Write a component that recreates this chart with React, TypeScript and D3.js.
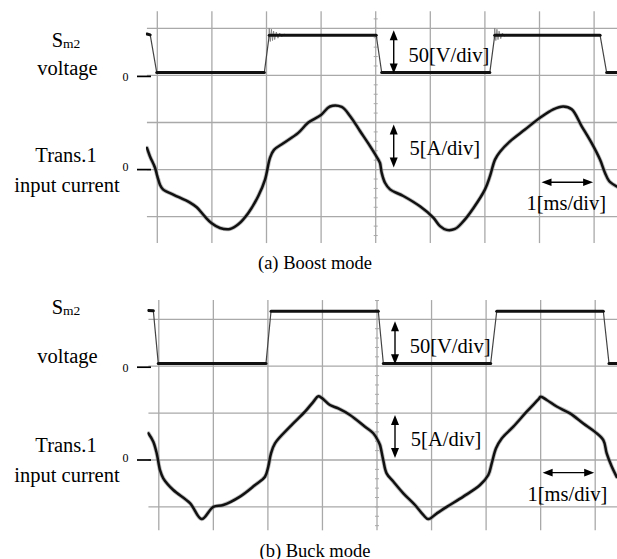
import React from 'react';
import * as d3 from 'd3';

const W = 617;
const H = 559;
const FONT = "'Liberation Serif', 'Times New Roman', Times, serif";

// Time grid: 1 ms per division; level grid: 4 divisions
const timeDivs = d3.range(0, 9);
const levelDivs = d3.range(0, 5);

// (a) Boost mode — switch voltage [ms, V]
const boostVoltage: [number, number][] = [
  [-0.19, 44], [-0.13, 43], [-0.01, 3], [1.96, 3], [2.05, 42.5], [4.01, 42.5],
  [4.11, 3], [6.09, 3], [6.18, 42.5], [8.11, 42.5], [8.23, 3], [8.45, 3],
];

// Switching ringing right after each rising edge [ms, V]
const boostRingingA: [number, number][] = [
  [2.04, 40], [2.05, 50], [2.07, 36], [2.09, 49], [2.11, 37], [2.13, 47], [2.15, 38],
  [2.18, 46], [2.21, 39.5], [2.24, 45], [2.28, 41], [2.32, 44], [2.36, 42.5],
];
const boostRingingB: [number, number][] = [
  [6.17, 40], [6.18, 50], [6.2, 37], [6.22, 49], [6.24, 38], [6.26, 47], [6.29, 39],
  [6.32, 45], [6.36, 41.5], [6.4, 43.5], [6.44, 42.5],
];

// (a) Boost mode — transformer input current [ms, A]
const boostCurrent: [number, number][] = [
  [-0.19, 2.3], [-0.134, 1.4], [-0.042, 0.2], [0, -0.7], [0.049, -1.6], [0.104, -2.1],
  [0.293, -2.65], [0.599, -3.5], [0.722, -4.0], [0.874, -5.0], [0.996, -5.7], [1.148, -6.2],
  [1.332, -6.3], [1.484, -5.8], [1.667, -4.6], [1.85, -2.8], [1.973, -1.06], [2.064, 1.24],
  [2.137, 2.1], [2.308, 2.8], [2.582, 3.9], [2.766, 5.0], [2.998, 5.8], [3.163, 6.7],
  [3.377, 6.65], [3.529, 5.7], [3.712, 4.1], [3.896, 2.5], [4.048, 1.06], [4.079, 0.7],
  [4.11, -0.35], [4.17, -1.4], [4.262, -2.1], [4.505, -2.8], [4.811, -3.9], [5.055, -5.1],
  [5.178, -6.0], [5.3, -6.4], [5.452, -6.3], [5.604, -5.5], [5.788, -4.1], [6.002, -2.1],
  [6.093, -0.7], [6.185, 1.06], [6.277, 1.9], [6.46, 3.0], [6.734, 4.25], [7.009, 5.5],
  [7.253, 6.4], [7.436, 6.7], [7.59, 6.4], [7.773, 4.6], [7.956, 2.8], [8.108, 1.06],
  [8.2, -0.35], [8.278, -1.24], [8.42, -1.8],
];

// (b) Buck mode — switch voltage [ms, V]
const buckVoltage: [number, number][] = [
  [-0.19, 59.5], [-0.1, 59], [-0.01, 3], [1.965, 3], [2.057, 58.6], [4.024, 58.6],
  [4.116, 3], [6.084, 3], [6.195, 58.6], [8.149, 58.6], [8.253, 3], [8.45, 3],
];

// (b) Buck mode — transformer input current [ms, A]
const buckCurrent: [number, number][] = [
  [-0.192, 2.85], [-0.101, 1.95], [-0.038, 0.7], [0.022, -1.07], [0.082, -1.95], [0.266, -3.2],
  [0.572, -4.6], [0.786, -6.3], [0.999, -5.0], [1.182, -4.8], [1.489, -3.9], [1.764, -2.67],
  [1.947, -1.78], [2.007, -0.7], [2.057, 0.7], [2.13, 1.78], [2.405, 3.55], [2.68, 5.15],
  [2.832, 6.2], [2.924, 6.8], [2.992, 6.6], [3.138, 5.86], [3.29, 5.5], [3.505, 4.8],
  [3.78, 3.55], [3.932, 2.85], [4.024, 2.0], [4.055, 1.6], [4.114, 0], [4.176, -1.42],
  [4.299, -2.3], [4.482, -3.55], [4.697, -4.8], [4.849, -5.86], [4.94, -6.3], [5.094, -5.7],
  [5.278, -5.0], [5.582, -3.9], [5.888, -2.67], [6.04, -1.6], [6.103, -0.36], [6.182, 1.25],
  [6.286, 2.3], [6.499, 3.55], [6.744, 5.15], [6.957, 6.46], [7.001, 6.75], [7.111, 6.4],
  [7.294, 5.7], [7.538, 4.97], [7.782, 3.9], [7.996, 3.0], [8.149, 2.13], [8.211, 0.7],
  [8.303, -0.7], [8.394, -1.8],
];

const voltScale = '50[V/div]';
const currScale = '5[A/div]';
const timeScale = '1[ms/div]';

type PanelSpec = {
  id: string;
  ox: number;
  oy: number;
  dx: number;
  dy: number;
  rowMin: number;
  rowMax: number;
  caption: string;
  captionY: number;
  voltage: [number, number][];
  ringing: [number, number][][];
  current: [number, number][];
  sY: number;
  voltY: number;
  transY: number;
  inputY: number;
};

const panels: PanelSpec[] = [
  {
    id: 'a', ox: 157.3, oy: 28.3, dx: 54.6, dy: 47.1, rowMin: -0.36, rowMax: 4.56,
    caption: '(a) Boost mode', captionY: 268.5,
    voltage: boostVoltage, ringing: [boostRingingA, boostRingingB], current: boostCurrent,
    sY: 47, voltY: 75, transY: 161.7, inputY: 191.7,
  },
  {
    id: 'b', ox: 158.8, oy: 319.3, dx: 54.55, dy: 46.9, rowMin: -0.41, rowMax: 4.5,
    caption: '(b) Buck mode', captionY: 556.5,
    voltage: buckVoltage, ringing: [], current: buckCurrent,
    sY: 314, voltY: 363, transY: 452, inputY: 482,
  },
];

// Split a switching waveform into its flat (on/off) stretches
function plateaus(pts: [number, number][]): [number, number][][] {
  const out: [number, number][][] = [];
  let cur: [number, number][] = [];
  for (let k = 0; k < pts.length - 1; k++) {
    const a = pts[k];
    const b = pts[k + 1];
    if (Math.abs(b[1] - a[1]) < 5) {
      if (!cur.length) cur.push(a);
      cur.push(b);
    } else if (cur.length) {
      out.push(cur);
      cur = [];
    }
  }
  if (cur.length) out.push(cur);
  return out;
}

function VArrow({ x, y1, y2 }: { x: number; y1: number; y2: number }) {
  const hl = 10;
  const hw = 4;
  return (
    <g fill="#000" stroke="none">
      <line x1={x} x2={x} y1={y1 + hl - 1} y2={y2 - hl + 1} stroke="#000" strokeWidth={1.4} />
      <polygon points={`${x},${y1} ${x - hw},${y1 + hl} ${x + hw},${y1 + hl}`} />
      <polygon points={`${x},${y2} ${x - hw},${y2 - hl} ${x + hw},${y2 - hl}`} />
    </g>
  );
}

function HArrow({ x1, x2, y }: { x1: number; x2: number; y: number }) {
  const hl = 10;
  const hw = 3.8;
  return (
    <g fill="#000" stroke="none">
      <line x1={x1 + hl - 1} x2={x2 - hl + 1} y1={y} y2={y} stroke="#000" strokeWidth={1.4} />
      <polygon points={`${x1},${y} ${x1 + hl},${y - hw} ${x1 + hl},${y + hw}`} />
      <polygon points={`${x2},${y} ${x2 - hl},${y - hw} ${x2 - hl},${y + hw}`} />
    </g>
  );
}

function Panel({ p }: { p: PanelSpec }) {
  const x = d3.scaleLinear().domain([0, 8]).range([p.ox, p.ox + 8 * p.dx]);
  const row = d3.scaleLinear().domain([0, 4]).range([p.oy, p.oy + 4 * p.dy]);
  const v = d3.scaleLinear().domain([0, 50]).range([row(1), row(0)]);
  const cur = d3.scaleLinear().domain([0, 5]).range([row(3), row(2)]);
  const yTop = row(p.rowMin);
  const yBot = row(p.rowMax);
  const xLeft = x(-0.19);
  const gridColor = '#a9a9a9';

  const vLine = d3.line<[number, number]>().x((d) => x(d[0])).y((d) => v(d[1]));
  const iLine = d3
    .line<[number, number]>()
    .x((d) => x(d[0]))
    .y((d) => cur(d[1]))
    .curve(d3.curveCatmullRom.alpha(0.5));

  const centerTicks = d3.range(Math.ceil(p.rowMin * 5), Math.floor(p.rowMax * 5) + 1).map((k) => k / 5);
  const clipId = `clip-${p.id}`;

  return (
    <g>
      <defs>
        <clipPath id={clipId}>
          <rect x={xLeft - 1} y={yTop - 6} width={W - xLeft + 1} height={yBot - yTop + 12} />
        </clipPath>
      </defs>

      {/* grid */}
      <g stroke={gridColor} strokeWidth={1.3}>
        {levelDivs.map((d) => (
          <line key={`h${d}`} x1={xLeft} x2={W} y1={row(d)} y2={row(d)} />
        ))}
        {timeDivs.map((t) => (
          <line key={`v${t}`} x1={x(t)} x2={x(t)} y1={yTop} y2={yBot} />
        ))}
        {centerTicks.map((d) => (
          <line key={`t${d}`} x1={x(4) - 2} x2={x(4) + 2} y1={row(d)} y2={row(d)} strokeWidth={1} />
        ))}
      </g>

      {/* traces */}
      <g clipPath={`url(#${clipId})`} fill="none" strokeLinejoin="round" strokeLinecap="round">
        {p.ringing.map((r, k) => (
          <path key={`r${k}`} d={vLine(r) || ''} stroke="#777" strokeWidth={0.8} />
        ))}
        <path d={vLine(p.voltage) || ''} stroke="#444" strokeWidth={1.2} />
        {plateaus(p.voltage).map((seg, k) => (
          <path key={`p${k}`} d={vLine(seg) || ''} stroke="#111" strokeWidth={3} />
        ))}
        <path d={iLine(p.current) || ''} stroke="#888" strokeWidth={4.2} opacity={0.55} />
        <path d={iLine(p.current) || ''} stroke="#111" strokeWidth={2.5} />
      </g>

      {/* zero markers */}
      <g stroke="#000" strokeWidth={1.7}>
        <line x1={137} x2={151} y1={v(0) + 1} y2={v(0) + 1} />
        <line x1={137} x2={151} y1={cur(0)} y2={cur(0)} />
      </g>
      <g fontFamily={FONT} fontSize={12} fill="#000" textAnchor="middle">
        <text x={125.5} y={v(0) + 5.5}>0</text>
        <text x={125.5} y={cur(0) + 1.7}>0</text>
      </g>

      {/* channel labels */}
      <g fontFamily={FONT} fontSize={20.5} fill="#000" textAnchor="middle">
        <text x={66} y={p.sY}>
          S<tspan fontSize={13.5} dy={1}>m2</tspan>
        </text>
        <text x={67.5} y={p.voltY}>voltage</text>
        <text x={66} y={p.transY}>Trans.1</text>
        <text x={67} y={p.inputY}>input current</text>
      </g>

      {/* scale annotations */}
      <VArrow x={x(4.33)} y1={v(50) + 2} y2={v(0) - 2} />
      <VArrow x={x(4.33)} y1={cur(5) + 2} y2={cur(0) - 2} />
      <HArrow x1={x(7) + 2} x2={x(8) - 1} y={cur(-1.35)} />
      <g fontFamily={FONT} fontSize={20.5} fill="#000">
        <text x={x(4.6)} y={p.oy + 33.6}>{voltScale}</text>
        <text x={x(4.62)} y={p.oy + 126.7}>{currScale}</text>
        <text x={x(7.49)} y={p.oy + 181.5} textAnchor="middle">{timeScale}</text>
      </g>

      <text x={315} y={p.captionY} fontFamily={FONT} fontSize={18.5} textAnchor="middle" fill="#000">
        {p.caption}
      </text>
    </g>
  );
}

export default function App() {
  return (
    <svg
      width={W}
      height={H}
      viewBox={`0 0 ${W} ${H}`}
      style={{ position: 'absolute', left: 0, top: 0, background: '#fff' }}
    >
      <rect width={W} height={H} fill="#fff" />
      {panels.map((p) => (
        <Panel key={p.id} p={p} />
      ))}
    </svg>
  );
}
